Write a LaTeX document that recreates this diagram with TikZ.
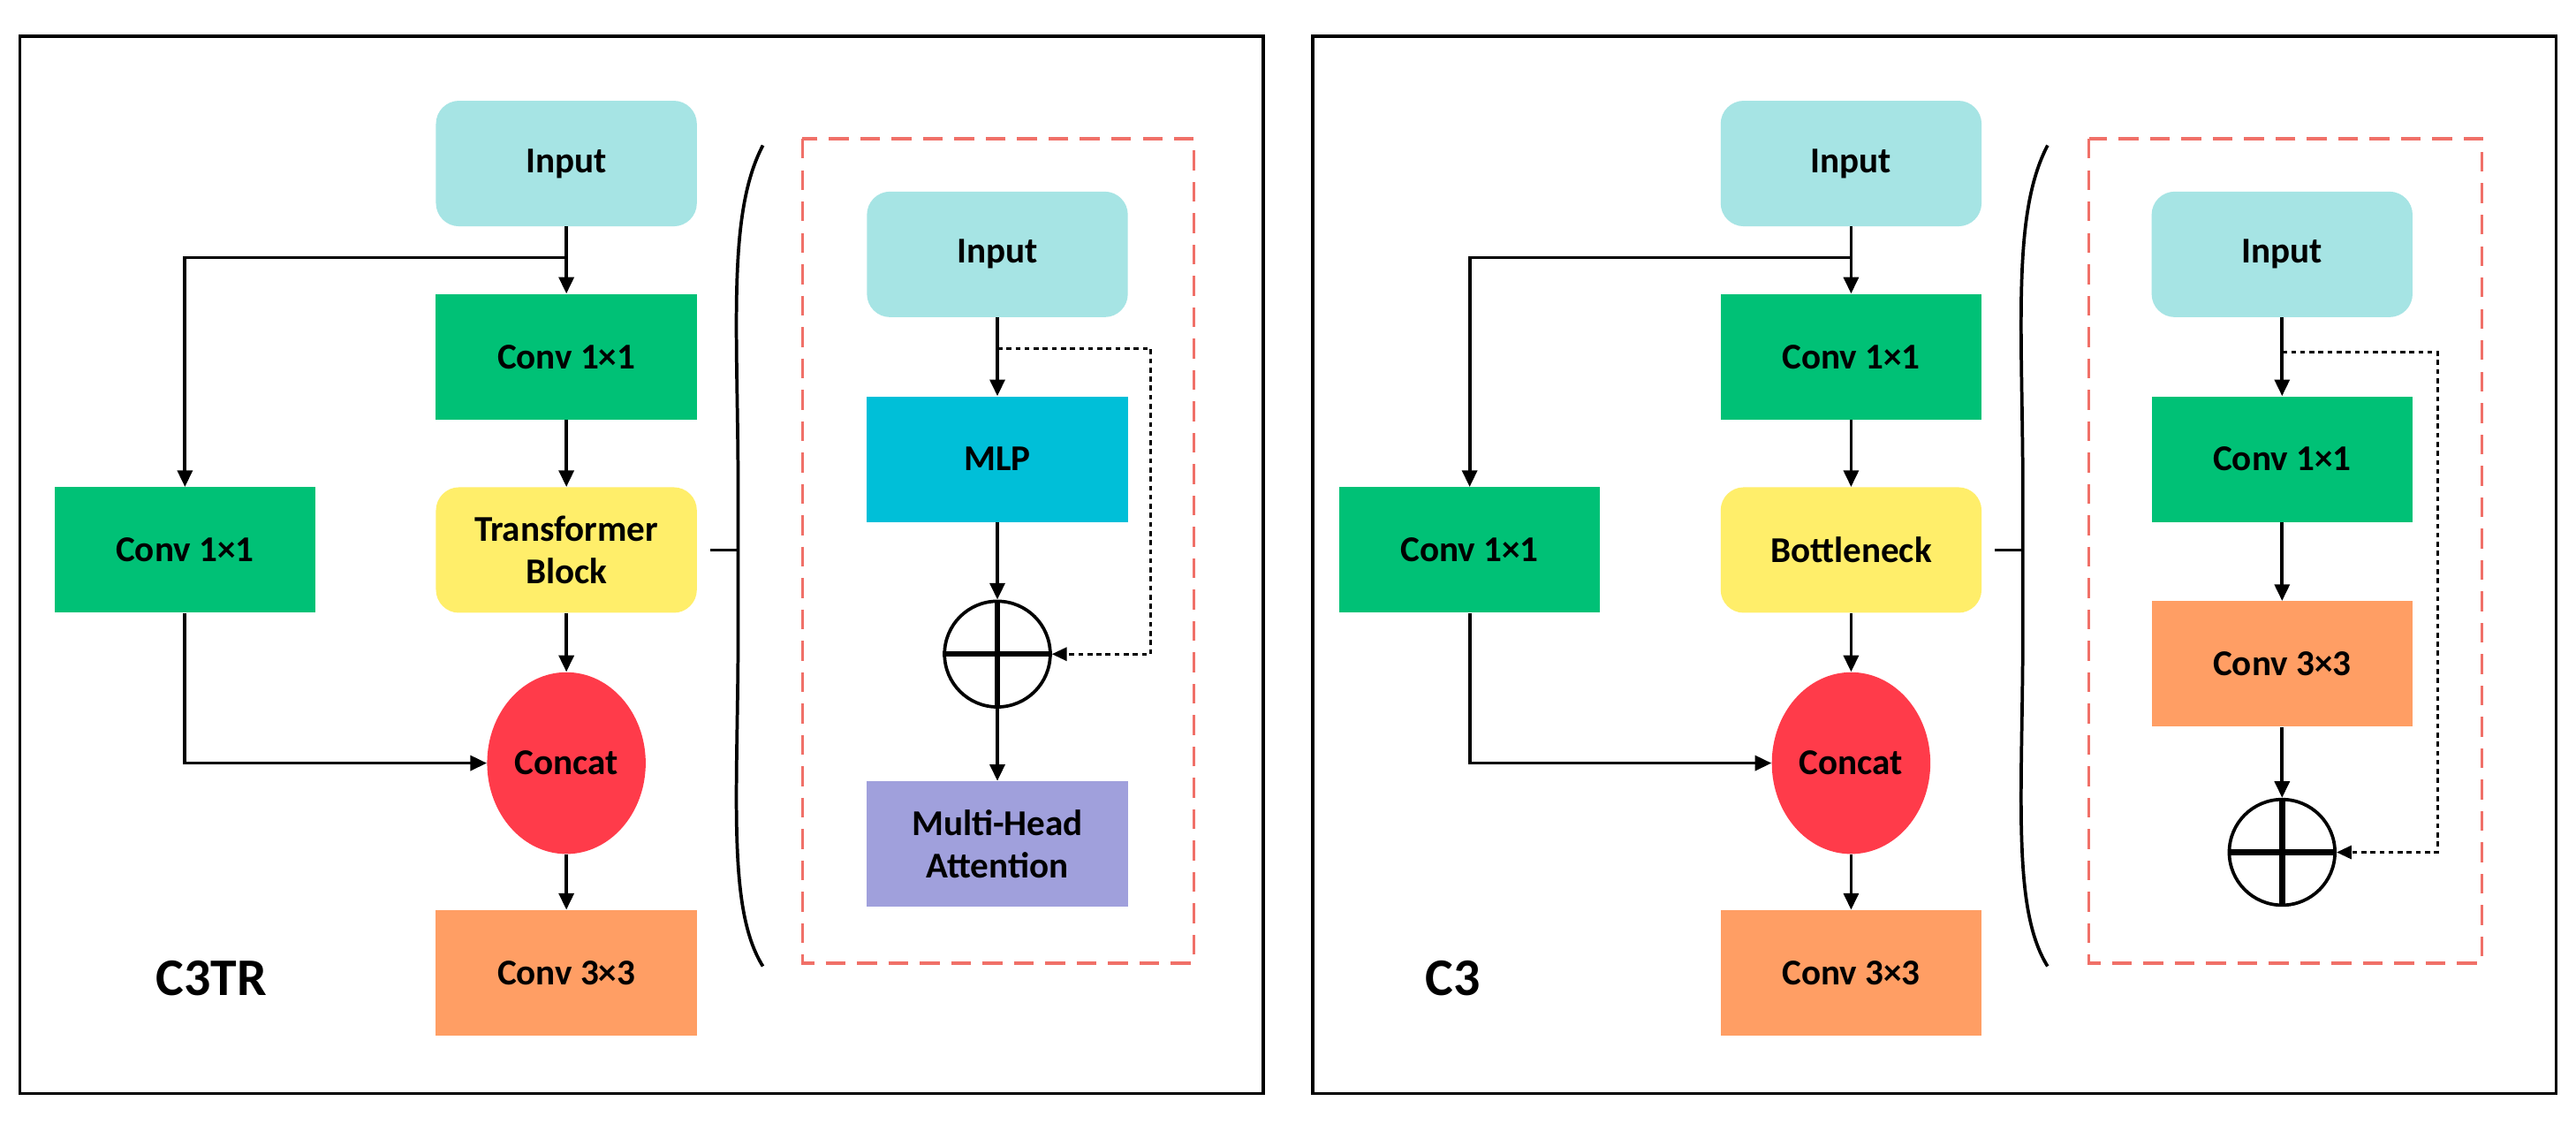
\documentclass[tikz,border=0pt]{standalone}
\usepackage{fontspec}
\setmainfont{Carlito}
\usetikzlibrary{arrows.meta,shapes.geometric}
\definecolor{cin}{HTML}{A6E4E4}
\definecolor{cgr}{HTML}{00C176}
\definecolor{cye}{HTML}{FFEE6A}
\definecolor{cre}{HTML}{FF3B4A}
\definecolor{cor}{HTML}{FF9E64}
\definecolor{cbl}{HTML}{00BFD8}
\definecolor{cpu}{HTML}{A0A0DC}
\definecolor{cda}{HTML}{F07068}
\begin{document}
\begin{tikzpicture}[x=1pt,y=-1pt,
  box/.style={minimum width=158pt,minimum height=76pt,inner sep=0pt,align=center,font=\fontsize{22}{26}\selectfont\bfseries},
  rbox/.style={box,rounded corners=14pt},
  arr/.style={line width=2pt,-{Triangle[length=10pt,width=9pt]}},
  ln/.style={line width=2pt},
  dot/.style={line width=1.6pt,dash pattern=on 3pt off 2.5pt,-{Triangle[length=9pt,width=8pt]}},
  plus/.style={circle,draw,line width=2pt,minimum size=64pt,inner sep=0pt},
  lab/.style={font=\fontsize{32}{36}\selectfont\bfseries}]
\useasboundingbox (0,0) rectangle (1560,680);
\fill[white] (0,0) rectangle (1560,680);
% ===== Left panel =====
\draw[line width=2pt] (12,22) rectangle (765,662);
\node[rbox,fill=cin] (in1) at (343,99) {Input};
\node[box,fill=cgr] (ca1) at (343,216) {Conv 1×1};
\node[rbox,fill=cye] (tb) at (343,333) {Transformer\\Block};
\node[ellipse,fill=cre,minimum width=96pt,minimum height=110pt,inner sep=0pt,font=\fontsize{22}{26}\selectfont\bfseries] (cc1) at (343,462) {Concat};
\node[box,fill=cor] (c31) at (343,589) {Conv 3×3};
\node[box,fill=cgr] (cl1) at (112,333) {Conv 1×1};
\node[lab] (t1) at (128,592) {C3TR};
\coordinate (b1) at (343,156);
\draw[arr] (in1) -- (ca1);
\draw[arr] (b1) -| (cl1.north);
\draw[arr] (ca1) -- (tb);
\draw[arr] (tb) -- (cc1);
\draw[arr] (cl1.south) |- (cc1.west);
\draw[arr] (cc1) -- (c31);
% bracket
\draw[line width=2pt] (462,88) .. controls (440,130) and (447,200) .. (447,300) -- (447,380) .. controls (447,480) and (440,550) .. (462,585);
\draw[line width=2pt] (430,333) -- (447,333);
\draw[cda,line width=2pt,dash pattern=on 12pt off 7pt] (486,84) rectangle (723,583);
\node[rbox,fill=cin] (in2) at (604,154) {Input};
\node[box,fill=cbl] (mlp) at (604,278) {MLP};
\node[plus] (p1) at (604,396) {};
\draw[line width=3.5pt] (p1.north) -- (p1.south) (p1.west) -- (p1.east);
\node[box,fill=cpu] (mha) at (604,511) {Multi-Head\\Attention};
\coordinate (d1) at (604,211);
\coordinate (d1r) at (697,211);
\draw[arr] (in2) -- (mlp);
\draw[arr] (mlp) -- (p1);
\draw[arr] (p1) -- (mha);
\draw[dot] (d1) -- (d1r) |- (p1.east);
% ===== Right panel =====
\draw[line width=2pt] (795,22) rectangle (1548,662);
\node[rbox,fill=cin] (in3) at (1121,99) {Input};
\node[box,fill=cgr] (ca3) at (1121,216) {Conv 1×1};
\node[rbox,fill=cye] (bn) at (1121,333) {Bottleneck};
\node[ellipse,fill=cre,minimum width=96pt,minimum height=110pt,inner sep=0pt,font=\fontsize{22}{26}\selectfont\bfseries] (cc3) at (1121,462) {Concat};
\node[box,fill=cor] (c33) at (1121,589) {Conv 3×3};
\node[box,fill=cgr] (cl3) at (890,333) {Conv 1×1};
\node[lab] (t3) at (880,592) {C3};
\coordinate (b3) at (1121,156);
\draw[arr] (in3) -- (ca3);
\draw[arr] (b3) -| (cl3.north);
\draw[arr] (ca3) -- (bn);
\draw[arr] (bn) -- (cc3);
\draw[arr] (cl3.south) |- (cc3.west);
\draw[arr] (cc3) -- (c33);
\draw[line width=2pt] (1240,88) .. controls (1218,130) and (1225,200) .. (1225,300) -- (1225,380) .. controls (1225,480) and (1218,550) .. (1240,585);
\draw[line width=2pt] (1208,333) -- (1225,333);
\draw[cda,line width=2pt,dash pattern=on 12pt off 7pt] (1265,84) rectangle (1503,583);
\node[rbox,fill=cin] (in4) at (1382,154) {Input};
\node[box,fill=cgr] (cv4) at (1382,278) {Conv 1×1};
\node[box,fill=cor] (c34) at (1382,402) {Conv 3×3};
\node[plus] (p2) at (1382,516) {};
\draw[line width=3.5pt] (p2.north) -- (p2.south) (p2.west) -- (p2.east);
\coordinate (d2) at (1382,213);
\coordinate (d2r) at (1476,213);
\draw[arr] (in4) -- (cv4);
\draw[arr] (cv4) -- (c34);
\draw[arr] (c34) -- (p2);
\draw[dot] (d2) -- (d2r) |- (p2.east);
\end{tikzpicture}
\end{document}
